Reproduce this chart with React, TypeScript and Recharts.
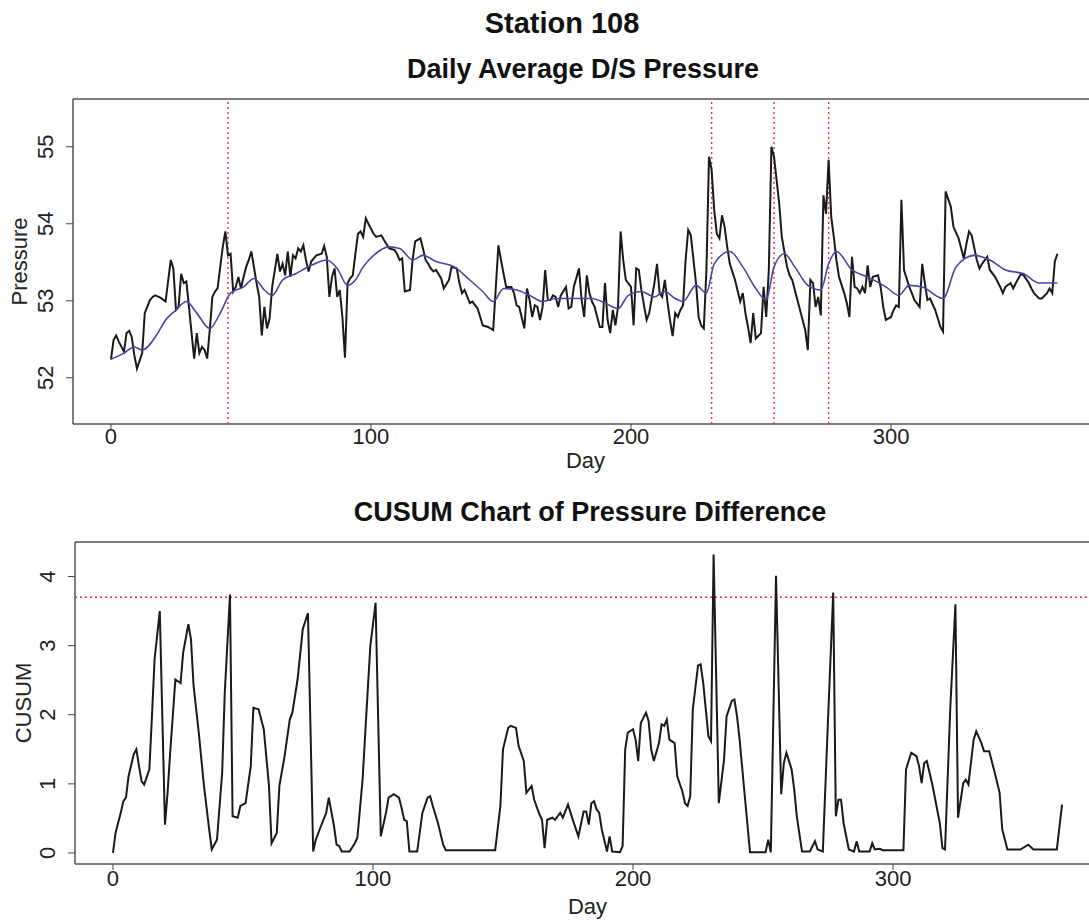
import { LineChart, Line, XAxis, YAxis, ReferenceLine } from 'recharts'

// [day, value] pairs
const dailyPressure: [number, number][] = [
  [0, 52.24], [1, 52.49], [2, 52.55], [3, 52.47], [5, 52.34], [6, 52.58], [7, 52.61], [8, 52.53], [9, 52.29], [10, 52.12],
  [12, 52.32], [13, 52.84], [15, 53.01], [16, 53.05], [17, 53.07], [19, 53.04], [21, 52.99], [23, 53.53], [24, 53.42], [25, 52.88],
  [26, 52.92], [27, 53.35], [28, 53.23], [29, 53.25], [30, 52.92], [31, 52.58], [32, 52.25], [33, 52.58], [34, 52.32], [35, 52.4],
  [36, 52.36], [37, 52.25], [38, 52.62], [39, 53.05], [40, 53.12], [41, 53.16], [43, 53.7], [44, 53.9], [45, 53.59], [46, 53.61],
  [47, 53.12], [48, 53.18], [49, 53.31], [50, 53.16], [51, 53.31], [52, 53.44], [53, 53.53], [54, 53.64], [56, 53.23], [57, 53.05],
  [58, 52.55], [59, 52.92], [60, 52.64], [61, 52.77], [62, 53.18], [64, 53.61], [65, 53.38], [66, 53.48], [67, 53.33], [68, 53.64],
  [69, 53.31], [70, 53.59], [71, 53.55], [72, 53.68], [73, 53.64], [74, 53.72], [75, 53.53], [76, 53.38], [77, 53.51], [79, 53.59],
  [81, 53.61], [82, 53.71], [83, 53.57], [84, 53.05], [85, 53.31], [86, 53.42], [87, 53.05], [88, 53.14], [89, 52.79], [90, 52.26],
  [91, 53.23], [92, 53.29], [93, 53.33], [94, 53.61], [95, 53.87], [96, 53.9], [97, 53.83], [98, 54.07], [99, 54.0], [101, 53.87],
  [102, 53.83], [104, 53.85], [105, 53.79], [107, 53.68], [109, 53.66], [110, 53.61], [111, 53.53], [112, 53.55], [113, 53.12], [115, 53.14],
  [116, 53.53], [117, 53.77], [119, 53.81], [120, 53.68], [121, 53.53], [122, 53.48], [123, 53.42], [124, 53.38], [125, 53.4], [127, 53.29],
  [128, 53.16], [130, 53.27], [131, 53.44], [133, 53.42], [134, 53.23], [135, 53.1], [136, 53.14], [138, 52.97], [139, 52.99], [141, 52.9],
  [142, 52.79], [143, 52.68], [145, 52.66], [147, 52.62], [149, 53.72], [150, 53.53], [151, 53.35], [152, 53.18], [154, 53.18], [155, 53.1],
  [156, 52.94], [157, 52.92], [159, 52.64], [160, 53.16], [161, 53.01], [162, 52.79], [163, 52.94], [164, 52.92], [165, 52.75], [166, 52.92],
  [167, 53.4], [168, 53.01], [169, 53.01], [170, 53.07], [171, 53.05], [172, 52.92], [173, 53.07], [175, 53.18], [176, 52.9], [177, 52.92],
  [178, 53.18], [180, 53.42], [181, 53.01], [182, 52.79], [183, 53.33], [184, 53.1], [185, 52.99], [186, 52.92], [188, 52.66], [189, 52.66],
  [190, 53.23], [191, 52.75], [192, 52.58], [193, 52.88], [194, 52.68], [195, 52.92], [196, 53.9], [197, 53.53], [198, 53.27], [200, 53.18],
  [201, 52.68], [202, 53.42], [203, 53.4], [204, 53.14], [205, 52.94], [206, 52.75], [207, 52.84], [209, 53.23], [210, 53.48], [211, 53.1],
  [212, 53.05], [213, 53.27], [214, 52.99], [215, 52.75], [216, 52.54], [217, 52.84], [218, 52.79], [219, 52.88], [220, 52.94], [221, 53.53],
  [222, 53.92], [223, 53.85], [225, 53.23], [226, 52.79], [227, 52.68], [228, 52.64], [229, 53.4], [230, 54.87], [231, 54.7], [232, 54.18],
  [233, 53.87], [234, 53.81], [235, 54.11], [236, 53.96], [237, 53.7], [238, 53.48], [240, 53.27], [242, 52.99], [243, 53.1], [244, 52.84],
  [245, 52.66], [246, 52.45], [247, 52.84], [248, 52.51], [250, 52.58], [251, 53.18], [252, 52.79], [253, 53.4], [254, 55.0], [255, 54.87],
  [257, 54.26], [258, 53.83], [260, 53.44], [261, 53.33], [262, 53.27], [264, 53.01], [266, 52.75], [267, 52.62], [268, 52.36], [269, 53.27],
  [270, 53.23], [271, 52.92], [272, 53.05], [273, 52.81], [274, 54.37], [275, 54.13], [276, 54.83], [277, 54.09], [278, 53.83], [279, 53.53],
  [280, 53.31], [282, 53.1], [283, 52.97], [284, 52.79], [285, 53.57], [286, 53.18], [287, 53.16], [288, 53.1], [289, 53.18], [290, 53.1],
  [291, 53.46], [292, 53.18], [293, 53.31], [295, 53.33], [296, 53.18], [297, 52.92], [298, 52.75], [300, 52.79], [301, 52.88], [302, 52.94],
  [303, 52.92], [304, 54.31], [305, 53.4], [307, 53.18], [308, 53.1], [309, 53.01], [311, 52.92], [312, 53.48], [313, 53.23], [314, 53.01],
  [315, 53.03], [317, 52.88], [319, 52.66], [320, 52.6], [321, 54.42], [323, 54.22], [324, 53.96], [326, 53.81], [327, 53.68], [328, 53.55],
  [329, 53.74], [330, 53.9], [331, 53.85], [333, 53.53], [334, 53.42], [335, 53.48], [337, 53.57], [338, 53.4], [340, 53.31], [342, 53.18],
  [343, 53.1], [344, 53.18], [346, 53.23], [347, 53.16], [348, 53.23], [350, 53.35], [351, 53.33], [353, 53.23], [354, 53.16], [355, 53.1],
  [357, 53.03], [358, 53.03], [360, 53.1], [361, 53.16], [362, 53.1], [363, 53.51], [364, 53.61],
]

const smoothPressure: [number, number][] = [
  [0, 52.24], [5, 52.32], [9, 52.4], [12, 52.36], [18, 52.58], [21, 52.75], [25, 52.88], [29, 52.99], [33, 52.84], [38, 52.64],
  [42, 52.84], [46, 53.1], [51, 53.18], [55, 53.29], [59, 53.14], [62, 53.07], [66, 53.27], [71, 53.35], [77, 53.46], [83, 53.53],
  [87, 53.42], [91, 53.2], [94, 53.27], [97, 53.44], [101, 53.59], [107, 53.7], [111, 53.68], [116, 53.53], [120, 53.59], [125, 53.51],
  [132, 53.44], [138, 53.27], [143, 53.12], [147, 52.99], [151, 53.16], [156, 53.14], [161, 53.07], [166, 52.99], [171, 53.03], [177, 53.03],
  [185, 53.03], [190, 52.97], [195, 52.9], [199, 53.07], [204, 53.12], [209, 53.05], [213, 53.12], [217, 53.03], [220, 52.99], [225, 53.2],
  [229, 53.1], [232, 53.48], [238, 53.64], [243, 53.44], [248, 53.16], [252, 53.01], [255, 53.44], [259, 53.61], [263, 53.44], [268, 53.2],
  [273, 53.14], [276, 53.48], [279, 53.64], [285, 53.4], [291, 53.31], [298, 53.18], [303, 53.07], [307, 53.2], [312, 53.18], [320, 53.03],
  [325, 53.44], [332, 53.59], [338, 53.53], [344, 53.4], [351, 53.35], [357, 53.23], [364, 53.23],
]

const cusum: [number, number][] = [
  [0, 0], [1, 0.29], [3, 0.58], [4, 0.75], [5, 0.8], [6, 1.11], [8, 1.43], [9, 1.5], [10, 1.26], [11, 1.04],
  [12, 0.99], [14, 1.21], [15, 1.98], [16, 2.8], [18, 3.5], [20, 0.41], [21, 0.87], [22, 1.45], [24, 2.51], [26, 2.46],
  [27, 2.9], [29, 3.31], [30, 3.09], [31, 2.42], [33, 1.74], [35, 0.97], [37, 0.34], [38, 0.05], [40, 0.19], [42, 1.16],
  [43, 2.32], [45, 3.74], [46, 0.53], [48, 0.51], [49, 0.68], [51, 0.72], [53, 1.26], [54, 2.1], [56, 2.08], [58, 1.79],
  [60, 0.97], [61, 0.14], [63, 0.29], [64, 0.97], [66, 1.4], [68, 1.93], [69, 2.03], [71, 2.51], [73, 3.24], [75, 3.47],
  [77, 0.02], [78, 0.19], [80, 0.39], [82, 0.58], [83, 0.8], [85, 0.39], [86, 0.12], [87, 0.1], [88, 0.02], [91, 0.02],
  [93, 0.14], [94, 0.22], [96, 1.06], [98, 2.37], [99, 3.0], [101, 3.62], [103, 0.24], [105, 0.58], [106, 0.8], [108, 0.85],
  [110, 0.8], [111, 0.65], [112, 0.48], [113, 0.46], [114, 0.02], [117, 0.02], [119, 0.58], [121, 0.8], [122, 0.82], [123, 0.68],
  [125, 0.43], [127, 0.12], [128, 0.04], [147, 0.04], [149, 0.68], [150, 1.5], [152, 1.81], [153, 1.84], [155, 1.81], [156, 1.55],
  [158, 1.33], [159, 0.87], [161, 0.97], [162, 0.77], [164, 0.56], [165, 0.48], [166, 0.07], [167, 0.48], [169, 0.51], [170, 0.48],
  [172, 0.58], [173, 0.51], [175, 0.7], [177, 0.46], [179, 0.24], [181, 0.6], [182, 0.6], [183, 0.41], [184, 0.72], [185, 0.75],
  [186, 0.63], [187, 0.58], [188, 0.34], [190, 0.02], [191, 0.24], [192, 0.02], [195, 0.01], [196, 0.1], [197, 1.5], [198, 1.74],
  [200, 1.79], [201, 1.64], [202, 1.33], [203, 1.88], [205, 2.03], [206, 1.91], [207, 1.5], [208, 1.33], [210, 1.59], [211, 1.86],
  [212, 1.84], [213, 1.93], [214, 1.64], [216, 1.59], [217, 1.11], [219, 0.89], [220, 0.72], [221, 0.68], [222, 0.82], [223, 2.08],
  [225, 2.71], [226, 2.73], [227, 2.46], [229, 1.69], [230, 1.62], [231, 4.32], [233, 0.72], [235, 1.35], [236, 1.98], [238, 2.2],
  [239, 2.22], [240, 1.98], [241, 1.64], [243, 0.82], [245, 0.01], [251, 0.01], [252, 0.19], [253, 0.01], [255, 4.01], [257, 0.85],
  [258, 1.3], [259, 1.45], [261, 1.21], [262, 0.92], [263, 0.53], [265, 0.02], [268, 0.02], [270, 0.17], [271, 0.05], [273, 0.02],
  [275, 1.93], [277, 3.77], [278, 0.53], [279, 0.77], [280, 0.77], [281, 0.43], [283, 0.05], [285, 0.02], [286, 0.17], [287, 0.02],
  [291, 0.02], [292, 0.14], [293, 0.05], [295, 0.06], [296, 0.04], [304, 0.04], [305, 1.21], [307, 1.45], [309, 1.4], [310, 1.26],
  [311, 1.01], [312, 1.3], [313, 1.33], [315, 1.01], [316, 0.82], [318, 0.43], [319, 0.07], [320, 0.05], [322, 2.08], [324, 3.6],
  [325, 0.51], [327, 1.01], [328, 1.06], [329, 0.99], [331, 1.64], [332, 1.76], [334, 1.59], [335, 1.47], [337, 1.47], [339, 1.18],
  [341, 0.87], [342, 0.34], [344, 0.05], [349, 0.05], [352, 0.12], [354, 0.05], [363, 0.05], [365, 0.7],
]

const changeDays = [45, 231, 255, 276]
const cusumLimit = 3.7
const dayTicks = [0, 100, 200, 300]
const pressureTicks = [52, 53, 54, 55]
const cusumTicks = [0, 1, 2, 3, 4]

const FONT = '"Liberation Sans", Arial, Helvetica, sans-serif'
const DAY_DOMAIN: [number, number] = [-14.6, 379.6]
const PRESSURE_DOMAIN: [number, number] = [51.4, 55.62]
const CUSUM_DOMAIN: [number, number] = [-0.16, 4.5]
const FRAME = '#555'

const toRows = (pairs: [number, number][]) => pairs.map(([day, value]) => ({ day, value }))

// R draws y tick labels parallel to the axis
function VerticalTick(props: any) {
  const { x, y, payload } = props
  return (
    <text
      x={x}
      y={y}
      dy={-11}
      textAnchor="middle"
      transform={`rotate(-90 ${x} ${y})`}
      fontSize={22}
      fill="#222"
      fontFamily={FONT}
    >
      {payload.value}
    </text>
  )
}

function dayAxis(labelOffset: number, tickMargin: number) {
  return (
    <XAxis
      type="number"
      dataKey="day"
      domain={DAY_DOMAIN}
      ticks={dayTicks}
      interval={0}
      allowDataOverflow
      axisLine={false}
      tickSize={6}
      tickMargin={tickMargin}
      stroke="#444"
      height={56}
      tick={{ fontSize: 22, fill: '#222' }}
      label={{ value: 'Day', position: 'insideBottom', offset: labelOffset, fontSize: 22, fill: '#222' }}
    />
  )
}

// left, top and bottom edges of the plot box (the right edge falls outside the picture)
function frame(yDomain: [number, number]) {
  return [
    <ReferenceLine key="left" x={DAY_DOMAIN[0]} stroke={FRAME} strokeWidth={1.5} />,
    <ReferenceLine key="top" y={yDomain[1]} stroke={FRAME} strokeWidth={1.5} />,
    <ReferenceLine key="bottom" y={yDomain[0]} stroke={FRAME} strokeWidth={1.5} />,
  ]
}

export default function App() {
  return (
    <div
      style={{
        position: 'absolute',
        left: 0,
        top: 0,
        width: 1089,
        height: 921,
        overflow: 'hidden',
        background: '#fff',
        fontFamily: FONT,
      }}
    >
      <div style={{ position: 'absolute', left: 0, top: 0 }}>
        <LineChart width={1110} height={480} margin={{ top: 99, right: 12, bottom: 0, left: 0 }}>
          {dayAxis(12, -2)}
          <YAxis
            type="number"
            domain={PRESSURE_DOMAIN}
            ticks={pressureTicks}
            interval={0}
            allowDataOverflow
            axisLine={false}
            tickSize={7}
            stroke="#444"
            width={73}
            tick={<VerticalTick />}
            label={{
              value: 'Pressure',
              angle: -90,
              position: 'insideLeft',
              offset: 19,
              fontSize: 22,
              fill: '#222',
              style: { textAnchor: 'middle' },
            }}
          />
          {frame(PRESSURE_DOMAIN)}
          {changeDays.map((d) => (
            <ReferenceLine key={d} x={d} stroke="#e8323c" strokeWidth={1.4} strokeDasharray="2 3" />
          ))}
          <Line
            data={toRows(dailyPressure)}
            dataKey="value"
            type="linear"
            stroke="#1a1a1a"
            strokeWidth={2}
            dot={false}
            isAnimationActive={false}
          />
          <Line
            data={toRows(smoothPressure)}
            dataKey="value"
            type="monotone"
            stroke="#4646a6"
            strokeWidth={1.6}
            dot={false}
            isAnimationActive={false}
          />
        </LineChart>
      </div>

      <div style={{ position: 'absolute', left: 2, top: 480 }}>
        <LineChart width={1110} height={440} margin={{ top: 62, right: 12, bottom: 0, left: 0 }}>
          {dayAxis(6, 0)}
          <YAxis
            type="number"
            domain={CUSUM_DOMAIN}
            ticks={cusumTicks}
            interval={0}
            allowDataOverflow
            axisLine={false}
            tickSize={7}
            stroke="#444"
            width={73}
            tick={<VerticalTick />}
            label={{
              value: 'CUSUM',
              angle: -90,
              position: 'insideLeft',
              offset: 21,
              fontSize: 22,
              fill: '#222',
              style: { textAnchor: 'middle' },
            }}
          />
          {frame(CUSUM_DOMAIN)}
          <ReferenceLine y={cusumLimit} stroke="#e8323c" strokeWidth={1.4} strokeDasharray="2 3" />
          <Line
            data={toRows(cusum)}
            dataKey="value"
            type="linear"
            stroke="#1a1a1a"
            strokeWidth={2}
            dot={false}
            isAnimationActive={false}
          />
        </LineChart>
      </div>

      <svg
        width={1089}
        height={921}
        style={{ position: 'absolute', left: 0, top: 0, pointerEvents: 'none' }}
        fontFamily={FONT}
        fontWeight="bold"
        fill="#111"
        textAnchor="middle"
      >
        <text x={562} y={33} fontSize={29}>Station 108</text>
        <text x={583} y={78} fontSize={27}>Daily Average D/S Pressure</text>
        <text x={590} y={521} fontSize={27}>CUSUM Chart of Pressure Difference</text>
      </svg>
    </div>
  )
}
